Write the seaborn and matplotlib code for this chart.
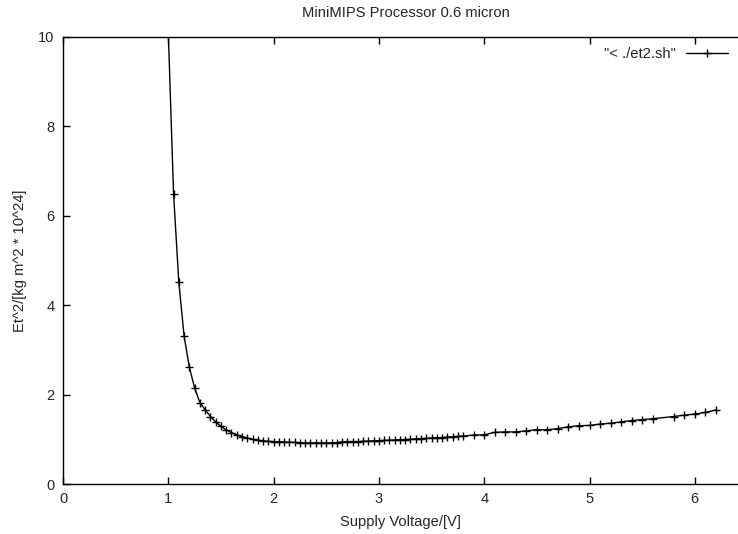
import matplotlib
matplotlib.use("Agg")
import matplotlib.pyplot as plt
import seaborn as sns
import pandas as pd

# supply voltage in V and E*t^2 in kg m^2 * 10^24
voltage = [1.00, 1.05, 1.10, 1.15, 1.20, 1.25, 1.30, 1.35, 1.40, 1.45,
           1.50, 1.55, 1.60, 1.65, 1.70, 1.75, 1.80, 1.85, 1.90, 1.95,
           2.00, 2.05, 2.10, 2.15, 2.20, 2.25, 2.30, 2.35, 2.40, 2.45,
           2.50, 2.55, 2.60, 2.65, 2.70, 2.75, 2.80, 2.85, 2.90, 2.95,
           3.00, 3.05, 3.10, 3.15, 3.20, 3.25, 3.30, 3.35, 3.40, 3.45,
           3.50, 3.55, 3.60, 3.65, 3.70, 3.75, 3.80, 3.90, 4.00, 4.10,
           4.20, 4.30, 4.40, 4.50, 4.60, 4.70, 4.80, 4.90, 5.00, 5.10,
           5.20, 5.30, 5.40, 5.50, 5.60, 5.80, 5.90, 6.00, 6.10, 6.20]
et2 = [10.1, 6.49, 4.51, 3.31, 2.61, 2.15, 1.82, 1.66, 1.51, 1.39,
       1.29, 1.21, 1.15, 1.10, 1.06, 1.03, 1.00, 0.98, 0.965, 0.955,
       0.95, 0.945, 0.94, 0.935, 0.93, 0.925, 0.92, 0.92, 0.92, 0.92,
       0.92, 0.92, 0.925, 0.945, 0.95, 0.95, 0.95, 0.955, 0.96, 0.965,
       0.97, 0.975, 0.98, 0.985, 0.99, 0.995, 1.00, 1.01, 1.015, 1.02,
       1.03, 1.035, 1.04, 1.05, 1.055, 1.065, 1.07, 1.095, 1.10, 1.155,
       1.165, 1.165, 1.19, 1.215, 1.215, 1.24, 1.28, 1.305, 1.31, 1.34,
       1.36, 1.39, 1.42, 1.44, 1.46, 1.51, 1.54, 1.565, 1.60, 1.655]
series_label = '"< ./et2.sh"'

df = pd.DataFrame({"V": voltage, "Et2": et2})

sns.set_style("ticks")
plt.rcParams['font.family'] = ['Liberation Sans', 'DejaVu Sans']

fig = plt.figure(figsize=(7.38, 5.34), dpi=100)
ax = fig.add_axes([63 / 738, 1 - 484 / 534, 1 - 63 / 738, (484 - 37) / 534])

sns.lineplot(data=df, x="V", y="Et2", ax=ax, color="black", linewidth=1,
             marker="+", markersize=5.5, markeredgewidth=1, markeredgecolor="black",
             label=series_label)

ax.set_xlim(0, 675 / 105.3)
ax.set_ylim(0, 10)
ax.set_xticks([0, 1, 2, 3, 4, 5, 6])
ax.set_yticks([0, 2, 4, 6, 8, 10])
ax.tick_params(direction="in", length=5, width=1, labelsize=10.5, color="black",
               top=True, bottom=True, left=True, right=False, pad=6)
for s in ["left", "bottom", "top"]:
    ax.spines[s].set_linewidth(1)
    ax.spines[s].set_color("black")
ax.spines["right"].set_visible(False)

ax.set_xlabel("Supply Voltage/[V]", fontsize=10.6, labelpad=6)
ax.set_ylabel("Et^2/[kg m^2 * 10^24]", fontsize=10.6, labelpad=8)
fig.text(406 / 738, 1 - 13 / 534, "MiniMIPS Processor 0.6 micron",
         ha="center", va="center", fontsize=10.6)

ax.legend(loc="upper right", frameon=False, markerfirst=False, fontsize=10.6,
          handlelength=2.8, handletextpad=0.7, borderaxespad=0.3)

fig.savefig("out.png", dpi=100)
